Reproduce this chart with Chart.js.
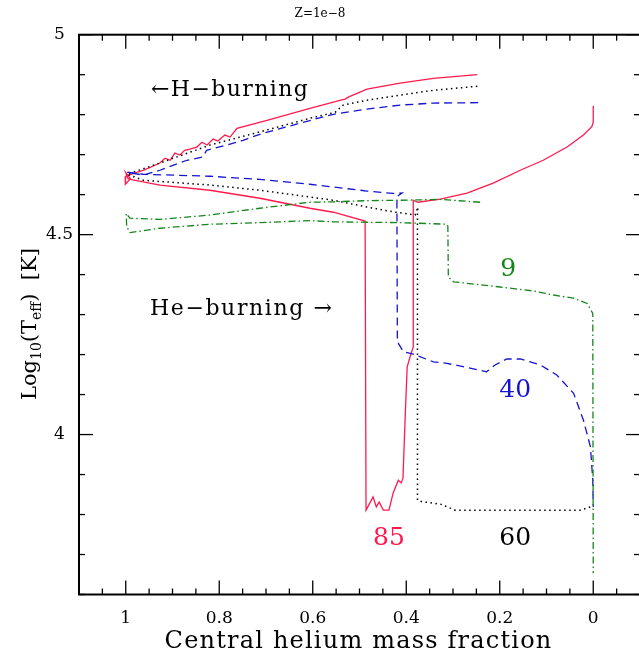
<!DOCTYPE html>
<html><head><meta charset="utf-8">
<script src="https://cdn.jsdelivr.net/npm/chart.js@4.4.1/dist/chart.umd.min.js"></script>
<style>html,body{margin:0;padding:0;overflow:hidden;background:#fff}
#wrap{width:641px;height:656px;position:relative}</style></head>
<body><div id="wrap"><canvas id="c"></canvas></div>
<script>
// ---- data ----
const xTickLabels = [1, 0.8, 0.6, 0.4, 0.2, 0];
const yTickLabels = [5, 4.5, 4];
const massLabels = ['85', '60', '40', '9'];

// 85 Msun (red, solid)
const x85 = [0.248,0.342,0.413,0.484,0.524,0.531,0.542,0.606,0.698,0.762,0.777,0.788,0.803,0.813,0.826,0.837,0.848,0.863,0.874,0.884,0.895,0.905,0.916,0.927,0.960,1.000,1.001,0.990,1.000,0.995,
             0.985,0.927,0.820,0.713,0.606,0.556,0.488,0.486,0.471,0.464,0.458,0.449,0.437,0.428,0.417,0.411,0.407,0.402,0.398,0.392,0.385,0.385,0.375,0.327,0.270,0.214,0.156,0.107,0.056,0.021,0.003,0.000,0.000];
const y85 = [4.900,4.891,4.879,4.864,4.844,4.839,4.836,4.816,4.786,4.766,4.744,4.749,4.734,4.739,4.724,4.731,4.719,4.714,4.711,4.699,4.704,4.686,4.691,4.679,4.662,4.646,4.626,4.640,4.655,4.640,
             4.637,4.624,4.611,4.591,4.566,4.556,4.534,3.811,3.844,3.819,3.831,3.811,3.811,3.854,3.886,3.879,3.891,4.054,4.169,4.194,4.219,4.586,4.581,4.589,4.604,4.629,4.661,4.686,4.719,4.749,4.770,4.782,4.822];

// 60 Msun (black, dotted)
const x60 = [0.248,0.342,0.413,0.484,0.535,0.552,0.606,0.713,0.820,0.927,0.997,
             0.963,0.820,0.713,0.606,0.556,0.484,0.428,0.381,0.375,0.376,0.376,0.366,0.327,0.295,0.185,0.028,0.000];
const y60 = [4.871,4.861,4.849,4.836,4.824,4.806,4.791,4.757,4.724,4.679,4.651,
             4.636,4.624,4.611,4.594,4.586,4.569,4.557,4.549,4.569,4.556,3.836,3.832,3.826,3.811,3.811,3.811,3.821];

// 40 Msun (blue, dashed)
const x40 = [0.246,0.342,0.413,0.484,0.556,0.627,0.713,0.749,0.784,0.827,0.835,0.869,0.927,0.963,0.997,
             0.963,0.820,0.713,0.606,0.556,0.484,0.428,0.409,0.420,0.419,0.417,0.406,0.385,0.342,0.313,0.270,0.228,0.210,0.185,0.156,0.113,0.078,0.042,0.021,0.006,0.001,0.000];
const y40 = [4.830,4.829,4.824,4.814,4.801,4.779,4.751,4.736,4.724,4.711,4.694,4.686,4.661,4.649,4.656,
             4.651,4.646,4.638,4.626,4.619,4.609,4.603,4.604,4.595,4.229,4.228,4.207,4.201,4.182,4.178,4.168,4.157,4.174,4.189,4.189,4.174,4.149,4.103,4.036,3.969,3.886,3.819];

// 9 Msun (green, dash-dot)
const x9 = [0.242,0.327,0.413,0.484,0.556,0.606,0.713,0.820,0.927,0.991,0.999,
            0.998,0.991,0.927,0.820,0.713,0.606,0.556,0.484,0.413,0.313,0.311,0.310,0.299,0.199,0.128,0.085,0.042,0.013,0.001,0.000];
const y9 = [4.581,4.588,4.586,4.585,4.582,4.581,4.566,4.549,4.538,4.541,4.553,
            4.520,4.505,4.516,4.526,4.530,4.535,4.532,4.531,4.530,4.526,4.521,4.394,4.382,4.369,4.359,4.349,4.341,4.328,4.303,3.653];

// ---- build ----
const pts = (xs, ys) => xs.map((v, i) => ({x: v, y: ys[i]}));
const RED = '#ff1a4d', BLUE = '#1414d2', GREEN = '#14861a', BLACK = '#000000';
const SERIF = '"DejaVu Serif", "Liberation Serif", serif';

const notes = [
  {text: '\u2190H\u2212burning', px: 151, py: 96, size: 22, spacing: 1.4, color: BLACK},
  {text: 'He\u2212burning \u2192', px: 150, py: 315, size: 22, spacing: 1.6, color: BLACK},
];
const massPos = {'85': [0.437, 3.724, RED], '60': [0.167, 3.724, BLACK], '40': [0.167, 4.094, BLUE], '9': [0.182, 4.396, GREEN]};

const decor = {
  id: 'decor',
  afterDraw(chart) {
    const {ctx, chartArea: a, scales: {x, y}} = chart;
    ctx.save();
    ctx.strokeStyle = '#000';
    ctx.lineWidth = 1.3;
    const ln = (x1, y1, x2, y2) => { ctx.beginPath(); ctx.moveTo(x1, y1); ctx.lineTo(x2, y2); ctx.stroke(); };
    for (let i = -2; i <= 22; i++) {
      const px = x.getPixelForValue(i * 0.05);
      const L = (i % 4 === 0) ? 14 : 6;
      ln(px, a.bottom, px, a.bottom - L);
      ln(px, a.top, px, a.top + L);
    }
    for (let i = 36; i <= 50; i++) {
      const py = y.getPixelForValue(i / 10);
      const L = (i % 5 === 0) ? 14 : 6;
      ln(a.left, py, a.left + L, py);
      ln(a.right, py, a.right - L, py);
    }
    ctx.lineWidth = 2;
    ctx.strokeRect(a.left, a.top, a.right - a.left, a.bottom - a.top);

    // annotations
    ctx.textBaseline = 'alphabetic';
    ctx.textAlign = 'left';
    notes.forEach(n => {
      ctx.fillStyle = n.color; ctx.font = n.size + 'px ' + SERIF;
      ctx.letterSpacing = n.spacing + 'px';
      ctx.fillText(n.text, n.px, n.py);
    });
    ctx.letterSpacing = '0px';
    ctx.textAlign = 'center';
    ctx.font = '25px ' + SERIF;
    massLabels.forEach(k => { const p = massPos[k]; ctx.fillStyle = p[2]; ctx.fillText(k, x.getPixelForValue(p[0]), y.getPixelForValue(p[1])); });

    // x axis title
    ctx.fillStyle = '#000';
    ctx.font = '24px ' + SERIF;
    ctx.letterSpacing = '1.2px';
    ctx.fillText('Central helium mass fraction', (a.left + a.right) / 2 - 1, 648);
    ctx.letterSpacing = '0px';

    // y axis title with subscripts
    ctx.translate(36, 400);
    ctx.rotate(-Math.PI / 2);
    ctx.textAlign = 'left';
    let cx = 0;
    const seg = (t, size, dy) => { ctx.font = size + 'px ' + SERIF; ctx.fillText(t, cx, dy); cx += ctx.measureText(t).width; };
    seg('Log', 21, 0); seg('10', 14, 5); seg('(T', 21, 0); seg('eff', 14, 5); seg(')  [K]', 21, 0);
    ctx.restore();
  }
};

new Chart(document.getElementById('c'), {
  type: 'scatter',
  data: {
    datasets: [
      {label: '9', data: pts(x9, y9), borderColor: GREEN, borderWidth: 1.3, borderDash: [7, 3, 1.5, 3]},
      {label: '40', data: pts(x40, y40), borderColor: BLUE, borderWidth: 1.3, borderDash: [8, 5]},
      {label: '60', data: pts(x60, y60), borderColor: BLACK, borderWidth: 1.5, borderDash: [1.5, 3.5]},
      {label: '85', data: pts(x85, y85), borderColor: RED, borderWidth: 1.3},
    ].map(d => Object.assign(d, {showLine: true, pointRadius: 0, fill: false, tension: 0}))
  },
  options: {
    responsive: true, maintainAspectRatio: false, animation: false, devicePixelRatio: 1,
    layout: {padding: {left: 0, right: 1, top: 0, bottom: 0}},
    plugins: {
      legend: {display: false}, tooltip: {enabled: false},
      title: {display: true, text: 'Z=1e\u22128', color: '#000', font: {family: SERIF, size: 12, weight: 'normal'}, padding: {top: 7, bottom: 13.3}}
    },
    scales: {
      x: {type: 'linear', reverse: true, min: -0.1, max: 1.1,
          grid: {display: false, drawTicks: false}, border: {display: false},
          ticks: {color: '#000', font: {family: SERIF, size: 17}, padding: 14, callback: v => String(v)},
          afterBuildTicks: s => { s.ticks = xTickLabels.map(v => ({value: v})); },
          afterFit: s => { s.height = 61.5; }},
      y: {type: 'linear', min: 3.6, max: 5,
          grid: {display: false, drawTicks: false}, border: {display: false},
          ticks: {color: '#000', font: {family: SERIF, size: 17}, padding: 6, crossAlign: 'center', callback: v => String(v)},
          afterBuildTicks: s => { s.ticks = yTickLabels.map(v => ({value: v})); },
          afterFit: s => { s.width = 79; }}
    }
  },
  plugins: [decor]
});
</script></body></html>
